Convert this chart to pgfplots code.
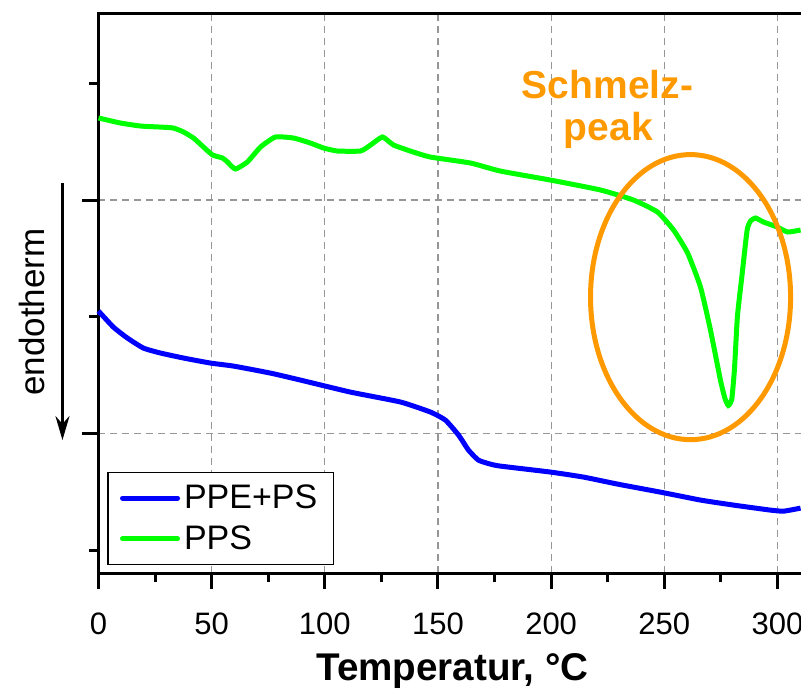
\documentclass[border=0pt]{standalone}
\usepackage{pgfplots}
\pgfplotsset{compat=1.18}
\usepackage{fontspec}
\setmainfont{Liberation Sans}
\usetikzlibrary{arrows.meta}
\definecolor{pgreen}{RGB}{0,255,0}
\definecolor{pblue}{RGB}{0,0,255}
\definecolor{porange}{RGB}{255,153,0}
\definecolor{gridgray}{RGB}{150,150,150}

\begin{document}
\begin{tikzpicture}
\begin{axis}[
  scale only axis, width=353pt, height=279.5pt,
  xmin=0, xmax=312, ymin=-0.197, ymax=4.594,
  clip=false,
  axis line style={line width=1.5pt},
  xtick={0,50,...,300}, minor xtick={25,75,...,325},
  ytick={1,3}, minor ytick={0,2,4}, yticklabels={},
  xtick pos=left, ytick pos=both,
  tick align=outside,
  major tick length=8pt, minor tick length=4.5pt,
  tick style={black, line width=1.5pt},
  grid=major,
  major grid style={gridgray, line width=0.6pt, dash pattern=on 3.5pt off 2.5pt},
  /pgf/number format/assume math mode=true,
  tick label style={font=\fontsize{15.5}{18}\selectfont},
  xticklabel style={yshift=-8.5pt},
  xlabel={Temperatur, °C},
  xlabel style={at={(axis cs:156.4,-1.114)}, anchor=base, font=\fontsize{19.3}{22}\selectfont\bfseries},
  legend style={at={(rel axis cs:0.0127,0.1807)}, anchor=north west, draw=black, line width=0.6pt,
    font=\fontsize{17}{20}\selectfont, inner xsep=6pt, inner ysep=4pt, row sep=3pt, cells={anchor=west}},
  legend image code/.code={\draw[#1, line cap=round] (0pt,0pt) -- (27.5pt,0pt);},
]
\addplot[pblue, line width=2.5pt, smooth, tension=0.3] coordinates {
(0,2.049) (6.6,1.911) (12.8,1.817) (19.9,1.731) (27.4,1.689) (37.6,1.646)
(49.5,1.603) (59.7,1.577) (76.0,1.517) (89.3,1.457) (111.4,1.354) (133.5,1.269)
(146.7,1.183) (153.3,1.114) (159.1,0.986) (163.5,0.857) (167.9,0.771) (173.2,0.737)
(177.6,0.720) (199.7,0.669) (214.3,0.626) (229.3,0.566) (248.3,0.497) (266.0,0.429)
(280.6,0.386) (296.9,0.343) (302.7,0.334) (310.2,0.360)
};
\addlegendentry{PPE+PS}
\addplot[pgreen, line width=2.5pt, smooth, tension=0.3] coordinates {
(0,3.703) (9.7,3.660) (18.6,3.634) (27.4,3.625) (33.1,3.617) (37.6,3.583)
(42.0,3.531) (46.4,3.454) (50.4,3.386) (54.8,3.360) (57.0,3.326) (60.5,3.266)
(65.8,3.326) (71.6,3.454) (78.2,3.540) (86.2,3.531) (93.7,3.488) (99.4,3.446)
(105.6,3.420) (115.8,3.420) (120.2,3.471) (125.5,3.540) (130.4,3.471) (139.2,3.411)
(146.7,3.368) (164.4,3.317) (177.6,3.248) (199.7,3.171) (221.8,3.086) (236.4,3.000)
(247.0,2.897) (254.1,2.743) (260.3,2.546) (266.0,2.254) (270.4,1.886) (274.8,1.457)
(276.8,1.300) (278.3,1.240) (279.8,1.290) (281.0,1.550) (282.3,2.000) (284.3,2.350)
(286.6,2.743) (288.1,2.820) (290.3,2.846) (293.9,2.811) (300.0,2.768) (304.5,2.726)
(310.2,2.743)
};
\addlegendentry{PPS}
\draw[porange, line width=2.5pt] (axis cs:261.6,2.168) ellipse [x radius=50pt, y radius=71.25pt];
\node[porange, anchor=base, font=\fontsize{19.5}{23}\selectfont\bfseries] at (axis cs:224.9,3.874) {Schmelz-};
\node[porange, anchor=base, font=\fontsize{19.5}{23}\selectfont\bfseries] at (axis cs:225.3,3.514) {peak};
\node[rotate=90, font=\fontsize{17.5}{21}\selectfont] at (axis cs:-29.5,2.04) {endotherm};
\draw[line width=1.5pt, -{Stealth[length=12pt, width=7pt]}] (axis cs:-15.9,3.146) -- (axis cs:-15.9,0.943);
\coordinate (bl) at (axis cs:-43.5,-1.208);
\coordinate (tr) at (axis cs:310.4,4.714);
\end{axis}
\pgfresetboundingbox
\useasboundingbox (bl) rectangle (tr);
\end{tikzpicture}
\end{document}
